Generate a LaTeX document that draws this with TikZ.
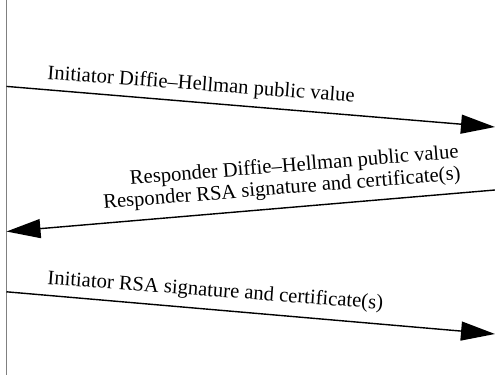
\documentclass[tikz,border=0pt]{standalone}
\usepackage{fontspec}
\setmainfont{Liberation Serif}
\usetikzlibrary{arrows.meta}
\tikzset{
  msg/.style={draw, line width=1.4pt, -{Triangle[length=34pt,width=19pt]}},
  lbl/.style={inner sep=0pt, anchor=base west, font=\fontsize{20.6}{21}\selectfont},
}

\begin{document}
\begin{tikzpicture}[x=1pt, y=-1pt]
  \useasboundingbox (0,0) rectangle (495,375);

  % initiator lifeline
  \coordinate (top) at (6.5,0);
  \coordinate (bot) at (6.5,375);
  \draw[gray, line width=1pt] (top) -- (bot);

  % message end points
  \coordinate (i1) at (6.5,86.4);
  \coordinate (r1) at (495,127);
  \coordinate (r2) at (495,190);
  \coordinate (i2) at (6.5,231.5);
  \coordinate (i3) at (6.5,291.8);
  \coordinate (r3) at (495,334);

  \path[msg] (i1) -- (r1);
  \path[msg] (r2) -- (i2);
  \path[msg] (i3) -- (r3);

  \node[lbl, rotate=-4.3] (initDH) at (47,79) {Initiator Diffie--Hellman public value};
  \node[lbl, rotate=4.65, anchor=south east, align=right,
        font=\fontsize{20.6}{21.8}\selectfont] (resp) at (461.4,184.3)
    {Responder Diffie--Hellman public value\\Responder RSA signature and certificate(s)};
  \node[lbl, rotate=-4.3] (initRSA) at (47,284) {Initiator RSA signature and certificate(s)};
\end{tikzpicture}
\end{document}
